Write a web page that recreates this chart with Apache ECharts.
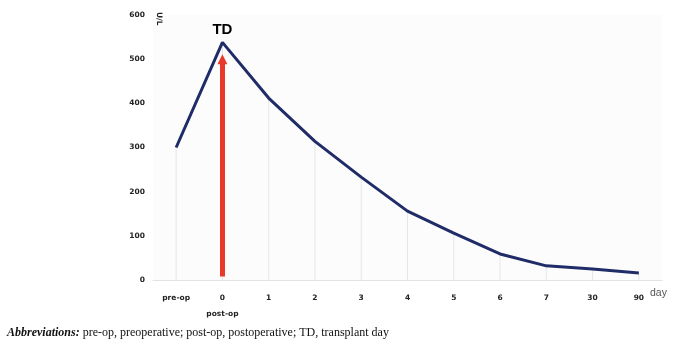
<!DOCTYPE html>
<html>
<head>
<meta charset="utf-8">
<script src="https://cdn.jsdelivr.net/npm/echarts@6/dist/echarts.min.js"></script>
<style>html,body{margin:0;padding:0;background:#fff}#c{width:679px;height:346px}</style>
</head>
<body>
<div id="c"></div>
<script>
const categories = ['pre-op', '0', '1', '2', '3', '4', '5', '6', '7', '30', '90'];
const values = [300, 538, 412, 314, 233, 156, 106, 59, 32, 25, 16];
const yTicks = [0, 100, 200, 300, 400, 500, 600];
const arrowFrom = 8;
const arrowTo = 500;
const tdCategory = '0';
const tdText = 'TD';
const caption = 'pre-op, preoperative; post-op, postoperative; TD, transplant day';

const chart = echarts.init(document.getElementById('c'), null, {renderer: 'canvas'});
const tdIndex = categories.indexOf(tdCategory);
chart.setOption({
  animation: false,
  backgroundColor: '#ffffff',
  grid: {left: 153, right: 17, top: 15, bottom: 66, show: true, backgroundColor: '#fcfcfc', borderWidth: 0},
  title: {
    left: 2, top: 322,
    text: '{b|Abbreviations:} ' + caption,
    textStyle: {
      fontFamily: 'Liberation Serif', fontSize: 12, fontWeight: 'normal', color: '#111',
      rich: {b: {fontFamily: 'Liberation Serif', fontSize: 12, fontWeight: 'bold', fontStyle: 'italic', color: '#111'}}
    }
  },
  xAxis: {
    type: 'category',
    data: categories,
    boundaryGap: true,
    axisLine: {show: true, lineStyle: {color: '#e2e2e2', width: 1}},
    axisTick: {show: false},
    splitLine: {show: false},
    axisLabel: {
      margin: 10, color: '#222', fontFamily: 'DejaVu Sans', fontWeight: 'bold', fontSize: 7.5,
      lineHeight: 16,
      formatter: v => v === tdCategory ? v + '\npost-op' : v
    },
    name: 'day',
    nameLocation: 'end',
    nameGap: 0,
    nameTextStyle: {color: '#555', fontFamily: 'Liberation Sans', fontSize: 10.5, align: 'right', verticalAlign: 'top', padding: [8, 4, 0, 0]}
  },
  yAxis: {
    type: 'value',
    min: yTicks[0], max: yTicks[yTicks.length - 1], interval: 100,
    axisLine: {show: false},
    axisTick: {show: false},
    splitLine: {show: false},
    axisLabel: {margin: 8, color: '#222', fontFamily: 'DejaVu Sans', fontWeight: 'bold', fontSize: 7.5},
    name: 'U/L',
    nameLocation: 'end',
    nameRotate: -90,
    nameGap: 3,
    nameTextStyle: {color: '#222', fontFamily: 'DejaVu Sans', fontWeight: 'bold', fontSize: 7.5, align: 'left', verticalAlign: 'bottom', padding: [0, 0, 2, 0]}
  },
  series: [{
    type: 'bar',
    data: values,
    barWidth: 1,
    silent: true,
    itemStyle: {color: '#e6e6e6'},
    z: 1
  }, {
    type: 'line',
    data: values,
    showSymbol: false,
    smooth: false,
    lineStyle: {color: '#1f2c68', width: 3},
    itemStyle: {color: '#1f2c68'},
    z: 3,
    markLine: {
      silent: true,
      symbol: ['none', 'triangle'],
      symbolSize: 10,
      label: {show: false},
      lineStyle: {color: '#e8392a', width: 5, type: 'solid'},
      emphasis: {disabled: true},
      data: [[{coord: [tdIndex, arrowFrom]}, {coord: [tdIndex, arrowTo]}]]
    },
    markPoint: {
      silent: true,
      symbol: 'circle',
      symbolSize: 1,
      itemStyle: {color: 'rgba(0,0,0,0)'},
      label: {show: true, position: 'top', distance: 5, formatter: tdText, color: '#000',
        fontFamily: 'Liberation Sans Narrow, Liberation Sans', fontWeight: 'bold', fontSize: 15},
      data: [{coord: [tdIndex, values[tdIndex]]}]
    }
  }]
});
</script>
</body>
</html>
